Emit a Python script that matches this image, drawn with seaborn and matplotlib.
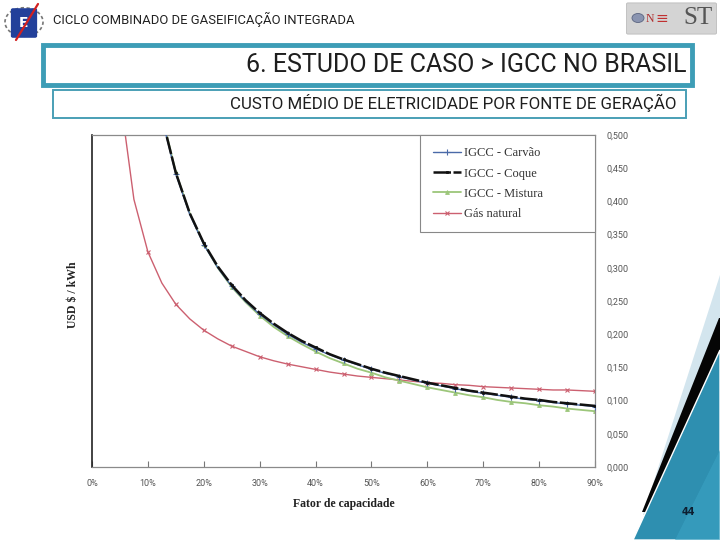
import matplotlib
matplotlib.use("Agg")
import matplotlib.pyplot as plt
import matplotlib.patches as mpatches
import matplotlib.lines as mlines
from matplotlib.ticker import FuncFormatter, FixedLocator
import seaborn as sns
import pandas as pd

# ---------------- data ----------------
fator = [5, 7.5, 10, 12.5, 15, 17.5, 20, 22.5, 25, 27.5, 30, 32.5, 35, 37.5,
         40, 42.5, 45, 47.5, 50, 52.5, 55, 57.5, 60, 62.5, 65, 67.5, 70,
         72.5, 75, 77.5, 80, 82.5, 85, 87.5, 90]

igcc_carvao = [1.280, 0.860, 0.651, 0.525, 0.441, 0.380, 0.335, 0.300, 0.272,
               0.249, 0.230, 0.214, 0.200, 0.188, 0.178, 0.169, 0.161, 0.154,
               0.147, 0.141, 0.136, 0.131, 0.126, 0.122, 0.118, 0.114, 0.111,
               0.108, 0.105, 0.102, 0.100, 0.097, 0.095, 0.093, 0.091]
igcc_coque = [1.284, 0.863, 0.653, 0.527, 0.443, 0.382, 0.337, 0.302, 0.274,
              0.251, 0.232, 0.216, 0.202, 0.190, 0.180, 0.170, 0.162, 0.155,
              0.148, 0.142, 0.137, 0.132, 0.127, 0.123, 0.119, 0.115, 0.112,
              0.109, 0.106, 0.103, 0.101, 0.098, 0.096, 0.094, 0.092]
igcc_mistura = [1.308, 0.876, 0.660, 0.530, 0.444, 0.382, 0.336, 0.300, 0.271,
                0.248, 0.228, 0.211, 0.197, 0.185, 0.174, 0.164, 0.156, 0.148,
                0.142, 0.135, 0.130, 0.125, 0.120, 0.116, 0.112, 0.108, 0.105,
                0.101, 0.098, 0.096, 0.093, 0.091, 0.088, 0.086, 0.084]
gas_natural = [0.560, 0.403, 0.324, 0.277, 0.245, 0.223, 0.206, 0.193, 0.182,
               0.174, 0.166, 0.160, 0.155, 0.151, 0.147, 0.143, 0.140, 0.137,
               0.135, 0.133, 0.131, 0.129, 0.127, 0.126, 0.124, 0.123, 0.121,
               0.120, 0.119, 0.118, 0.117, 0.116, 0.116, 0.115, 0.114]

series_names = ["IGCC - Carvão", "IGCC - Coque", "IGCC - Mistura", "Gás natural"]
x_ticks = [0, 10, 20, 30, 40, 50, 60, 70, 80, 90]
y_ticks = [0.0, 0.05, 0.10, 0.15, 0.20, 0.25, 0.30, 0.35, 0.40, 0.45, 0.50]

header_text = "CICLO COMBINADO DE GASEIFICAÇÃO INTEGRADA"
title_text = "6. ESTUDO DE CASO > IGCC NO BRASIL"
subtitle_text = "CUSTO MÉDIO DE ELETRICIDADE POR FONTE DE GERAÇÃO"
x_label = "Fator de capacidade"
y_label = "USD $ / kWh"
page_no = "44"

# ---------------- figure ----------------
sns.set_theme(style="white")
plt.rcParams['font.family'] = ['DejaVu Sans']

W, H = 720, 540
fig = plt.figure(figsize=(7.2, 5.4), dpi=100)
fig.patch.set_facecolor("white")


def fx(x):
    return x / W


def fy(y):
    return 1 - y / H


narrow = ['Liberation Sans Narrow', 'Roboto', 'DejaVu Sans']
serif = ['Liberation Serif', 'DejaVu Serif']

ax = fig.add_axes([fx(92), fy(467), (595 - 92) / W, (467 - 135) / H])

frames = [pd.DataFrame({"x": fator, "y": igcc_carvao}),
          pd.DataFrame({"x": fator, "y": igcc_coque}),
          pd.DataFrame({"x": fator, "y": igcc_mistura}),
          pd.DataFrame({"x": fator, "y": gas_natural})]
colors = ["#4a6aa8", "#111111", "#9cc67a", "#cc6070"]
styles = [
    dict(lw=1.0, marker="+", ms=4, mew=0.8, zorder=3),
    dict(lw=1.8, ls=(0, (7, 1.0)), marker="s", ms=2.0, mew=0.5, zorder=4),
    dict(lw=1.3, marker="^", ms=2.8, mew=0.6, zorder=2),
    dict(lw=1.0, marker="x", ms=3.5, mew=0.8, zorder=1),
]
order = [3, 2, 0, 1]
for i in order:
    sns.lineplot(data=frames[i], x="x", y="y", ax=ax, label=series_names[i],
                 markevery=2, sort=True, estimator=None, color=colors[i],
                 mec=colors[i], mfc=colors[i], **styles[i])

ax.set_xlim(0, 90)
ax.set_ylim(0, 0.5)
ax.xaxis.set_major_locator(FixedLocator(x_ticks))
ax.yaxis.set_major_locator(FixedLocator(y_ticks))
ax.xaxis.set_major_formatter(FuncFormatter(lambda v, p: f"{int(round(v))}%"))
ax.yaxis.set_major_formatter(FuncFormatter(lambda v, p: f"{v:.3f}".replace('.', ',')))
ax.yaxis.tick_right()
ax.tick_params(axis='y', which='both', length=0, pad=8, labelsize=6.5,
               labelcolor="#555555", right=True, left=False)
ax.tick_params(axis='x', which='both', direction='in', length=4, width=0.8,
               color="#777777", pad=9, labelsize=6.5, labelcolor="#555555",
               bottom=True)
for lab in ax.get_xticklabels() + ax.get_yticklabels():
    lab.set_family(narrow)

for side, sp in ax.spines.items():
    sp.set_visible(True)
    sp.set_color("#8a8a8a")
    sp.set_linewidth(0.9)
ax.spines['left'].set_color("#222222")
ax.spines['left'].set_linewidth(1.2)

ax.set_xlabel(x_label, fontfamily=serif, fontweight='bold', fontsize=8.5,
              color="#222222", labelpad=7)
ax.set_ylabel("")
fig.text(fx(73), fy(295), y_label, rotation=90, ha='center', va='center',
         fontfamily=serif, fontweight='bold', fontsize=8.5, color="#222222")

# legend in series order, box spanning x=420..595 px
handles, labels = ax.get_legend_handles_labels()
hmap = dict(zip(labels, handles))
lx0 = (420 - 92) / (595 - 92)
leg = ax.legend([hmap[n] for n in series_names], series_names,
                loc='upper left', bbox_to_anchor=(lx0, 1.0, 1.0 - lx0, 0.0),
                mode="expand", borderaxespad=0.0, frameon=True,
                fancybox=False, edgecolor="#888888", framealpha=1,
                prop={'family': serif, 'size': 9}, handlelength=2.3,
                handletextpad=0.2, labelspacing=0.65, borderpad=1.0)
leg.get_frame().set_linewidth(0.8)
for t in leg.get_texts():
    t.set_color("#333333")

# ---------------- slide decoration ----------------
fig.text(fx(53), fy(19), header_text, ha='left', va='center',
         fontfamily=narrow, fontsize=9.4, color="#222222")

# title box
fig.patches.append(mpatches.Rectangle((fx(43), fy(85)), (692 - 43) / W, (85 - 45) / H,
                                      transform=fig.transFigure, facecolor="white",
                                      edgecolor="#3d9db6", lw=3.5, zorder=0))
fig.text(fx(686), fy(65), title_text, ha='right', va='center',
         fontfamily=narrow, fontsize=18, color="#1e1e1e")

# subtitle box
fig.patches.append(mpatches.Rectangle((fx(53), fy(118)), (686 - 53) / W, (118 - 90) / H,
                                      transform=fig.transFigure, facecolor="white",
                                      edgecolor="#4a9fb5", lw=1.4, zorder=0))
fig.text(fx(677), fy(103), subtitle_text, ha='right', va='center',
         fontfamily=narrow, fontsize=12.2, color="#1e1e1e")

# left logo (approximation)
fig.patches.append(mpatches.Circle((fx(24), fy(22)), 19 / W, transform=fig.transFigure,
                                   facecolor="white", edgecolor="#777777", lw=1.2,
                                   ls=(0, (2, 1.5)), zorder=1))
fig.patches.append(mpatches.FancyBboxPatch((fx(13), fy(36)), 22 / W, 26 / H,
                                           boxstyle="round,pad=0.002",
                                           transform=fig.transFigure,
                                           facecolor="#23409a", edgecolor="#23409a",
                                           zorder=2))
fig.text(fx(24), fy(23), "E", ha='center', va='center', fontsize=10,
         fontweight='bold', color="white", zorder=3)
fig.lines.append(mlines.Line2D([fx(16), fx(38)], [fy(40), fy(4)],
                               transform=fig.transFigure, color="#d22020",
                               lw=1.6, zorder=4))

# right logo (approximation)
fig.patches.append(mpatches.FancyBboxPatch((fx(628), fy(33)), 87 / W, 29 / H,
                                           boxstyle="round,pad=0.002",
                                           transform=fig.transFigure,
                                           facecolor="#d4d4d4", edgecolor="#bbbbbb",
                                           lw=0.6, zorder=1))
fig.patches.append(mpatches.Circle((fx(638), fy(18)), 6 / W, transform=fig.transFigure,
                                   facecolor="#8a94b0", edgecolor="#5a6480", lw=0.6,
                                   zorder=2))
fig.text(fx(646), fy(19), "N", ha='left', va='center', fontsize=8.5,
         fontfamily=serif, color="#b03030", zorder=3)
fig.text(fx(655), fy(18), "\u2261", ha='left', va='center', fontsize=11,
         color="#c03030", zorder=3)
fig.text(fx(713), fy(18), "ST", ha='right', va='center', fontsize=18,
         fontfamily=serif, color="#555555", zorder=3)

# bottom-right decorative shapes
fig.patches.append(mpatches.Polygon([(fx(720), fy(275)), (fx(643), fy(515)), (fx(720), fy(515))],
                                    closed=True, transform=fig.transFigure,
                                    facecolor="#d3e5ee", edgecolor="none", zorder=1))
fig.patches.append(mpatches.Polygon([(fx(719), fy(318)), (fx(642), fy(512)), (fx(720), fy(512)),
                                     (fx(720), fy(318))],
                                    closed=True, transform=fig.transFigure,
                                    facecolor="#050505", edgecolor="none", zorder=2))
fig.patches.append(mpatches.Polygon([(fx(720), fy(350)), (fx(633), fy(540)), (fx(720), fy(540))],
                                    closed=True, transform=fig.transFigure,
                                    facecolor="#2e8fb0", edgecolor="white", lw=1.0,
                                    zorder=3))
fig.patches.append(mpatches.Polygon([(fx(720), fy(450)), (fx(675), fy(540)), (fx(720), fy(540))],
                                    closed=True, transform=fig.transFigure,
                                    facecolor="#3aa3c4", edgecolor="none", alpha=0.6,
                                    zorder=4))
fig.text(fx(688), fy(512), page_no, ha='center', va='center', fontsize=7,
         fontweight='bold', color="#0d1e30", zorder=5)

fig.savefig("out.png", dpi=100)
